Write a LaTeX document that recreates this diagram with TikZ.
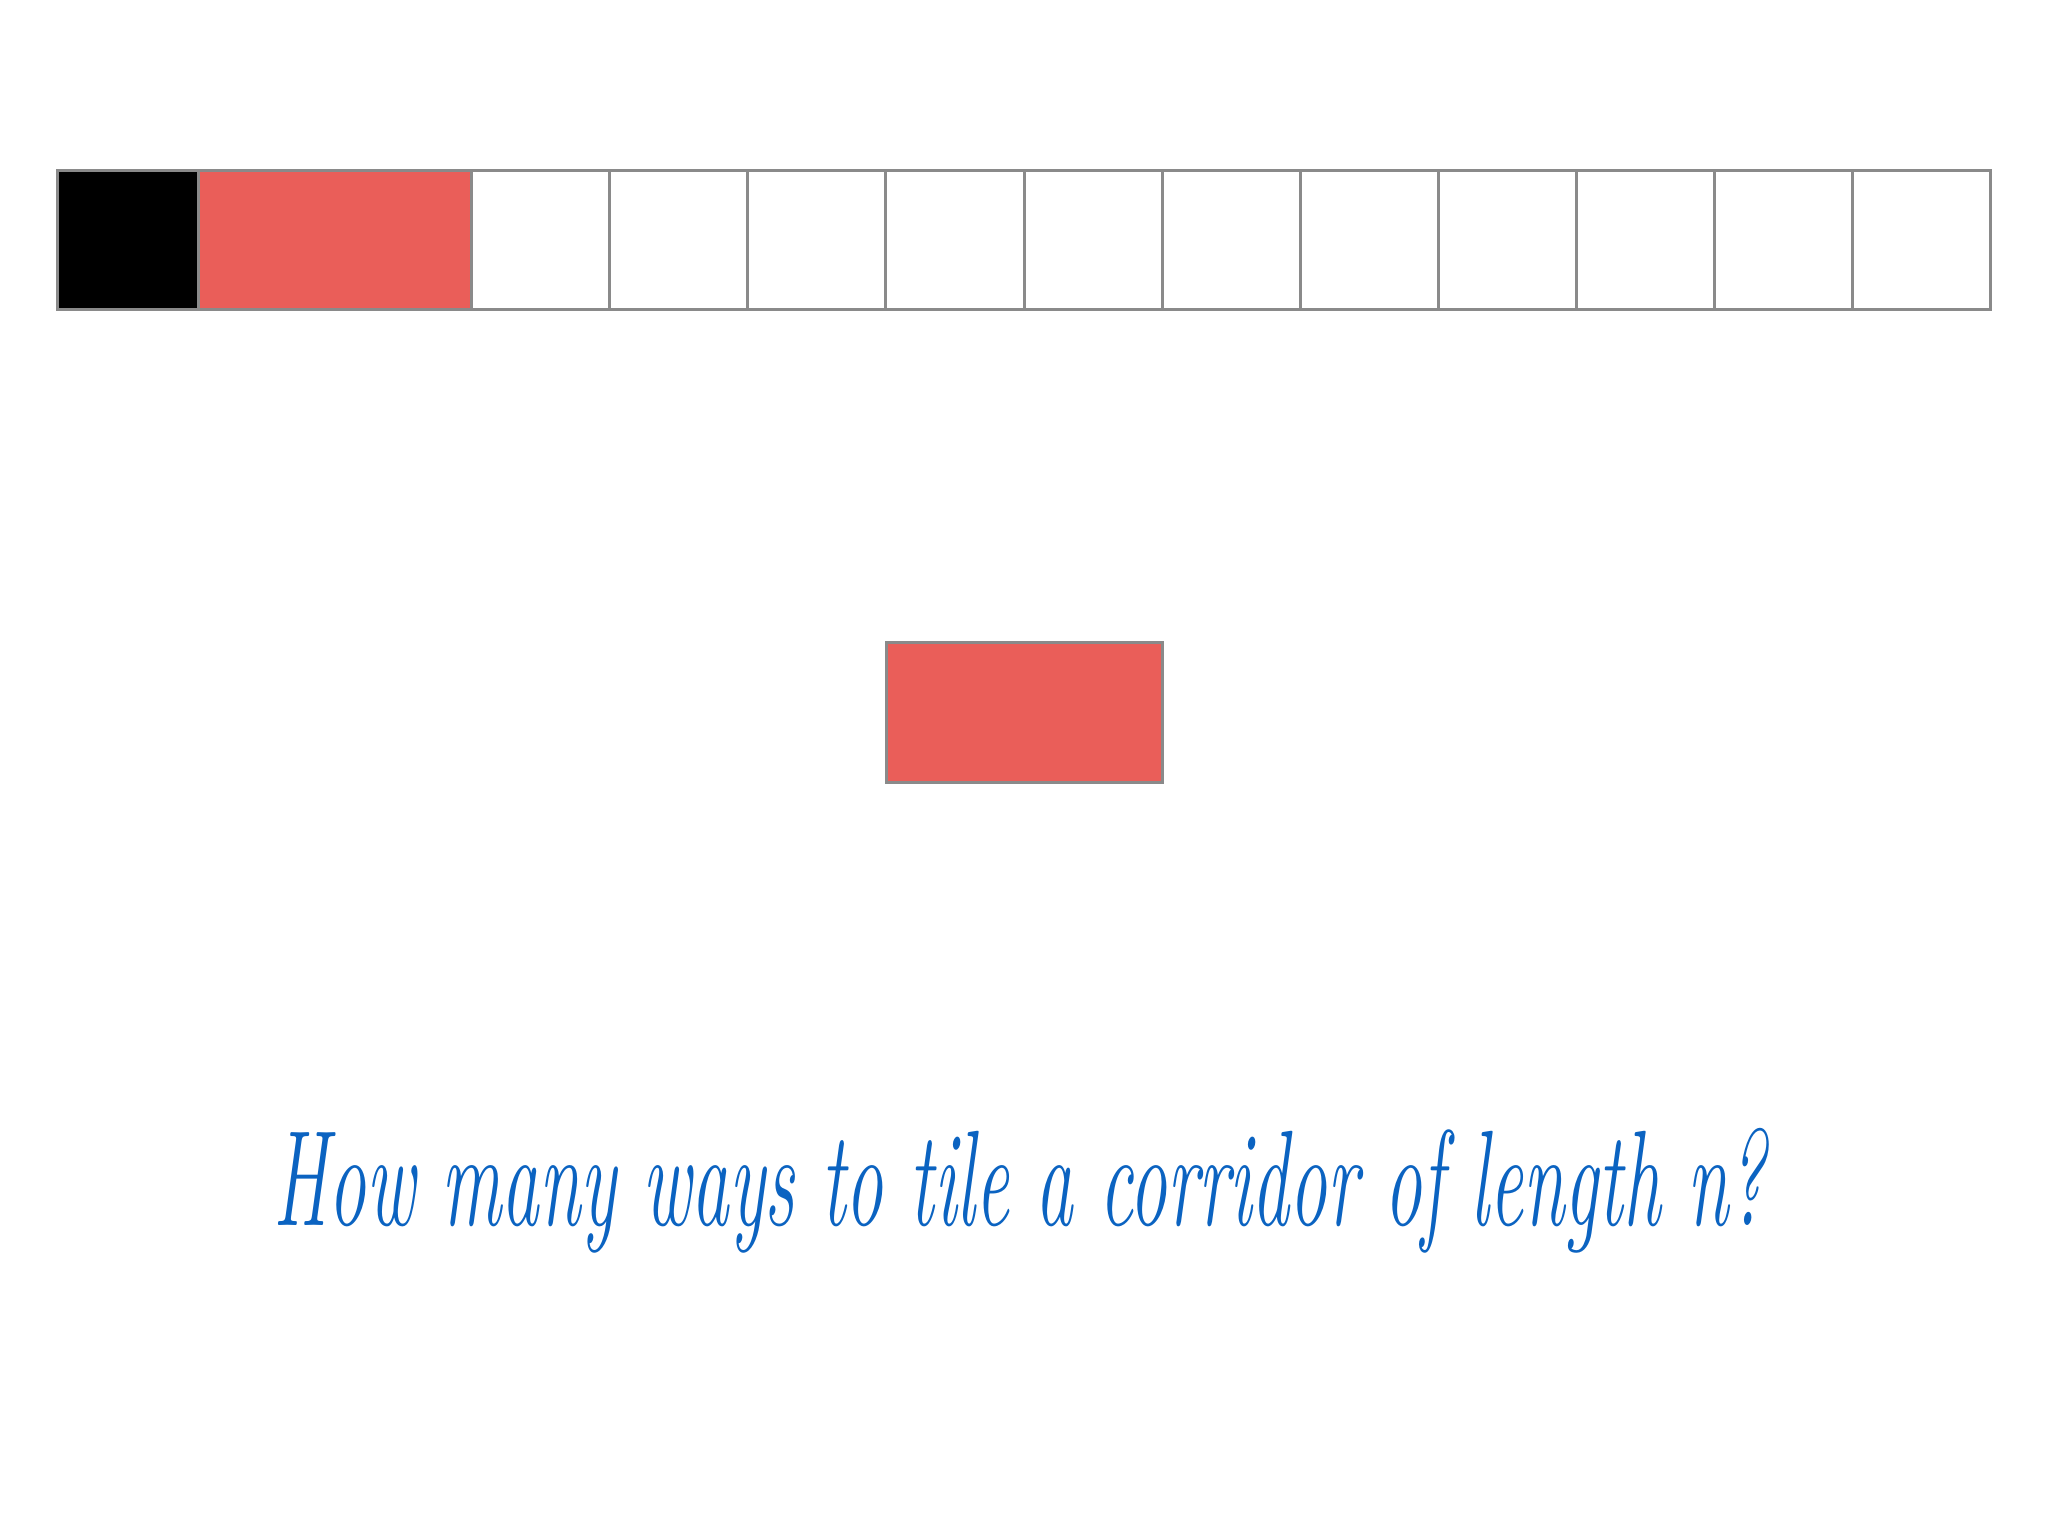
\documentclass[tikz,border=0pt]{standalone}
\usepackage{fontspec}
\begin{document}
\begin{tikzpicture}[x=0.5pt,y=-0.5pt,
  cellbox/.style={draw=gridgray,line width=1.5pt},
  tilebox/.style={draw=gridgray,line width=1.5pt,fill=tilered}]
\definecolor{gridgray}{HTML}{8A8A8A}
\definecolor{tilered}{HTML}{EA5E59}
\definecolor{textblue}{HTML}{0B63C1}
\useasboundingbox (0,0) rectangle (2048,1536);
\fill[white] (0,0) rectangle (2048,1536);
\def\cw{138.07}
\foreach \i in {3,...,13}{
  \draw[cellbox] ({57.5+\i*\cw},170) rectangle ({57.5+(\i+1)*\cw},309.5);
}
\draw[cellbox,fill=black] (57.5,170) rectangle ({60+\cw},309.5);
\draw[tilebox] ({60+\cw},170) rectangle ({57.5+3*\cw},309.5);
\draw[tilebox] (886,642) rectangle (1162,782);
\node[text=textblue,font=\itshape\fontsize{40}{48}\selectfont,anchor=base] (q) at (1020,1225)
  {\scalebox{0.94}[1.7]{How many ways to tile a corridor of length n?}};
\end{tikzpicture}
\end{document}
